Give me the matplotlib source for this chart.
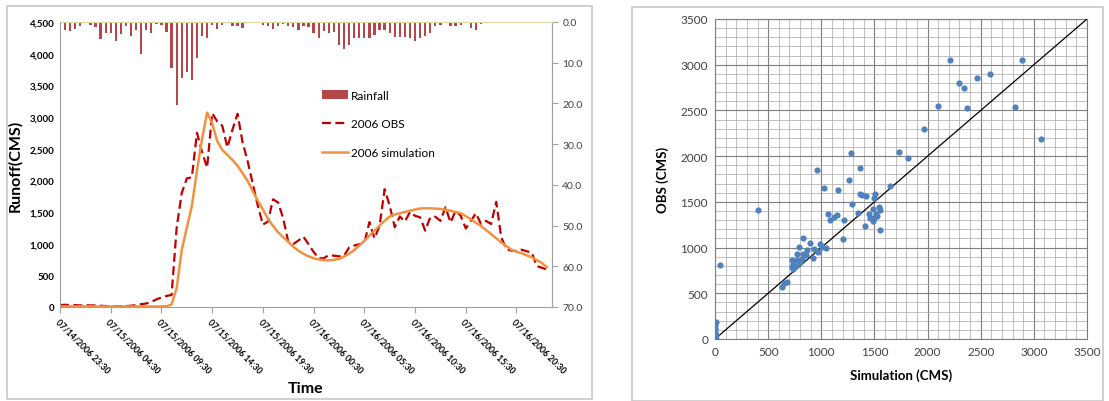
import numpy as np
import matplotlib
matplotlib.use("Agg")
from matplotlib import pyplot as plt
from matplotlib.patches import Rectangle
from matplotlib.ticker import FuncFormatter, MultipleLocator

plt.rcParams['font.family'] = ['Lato', 'DejaVu Sans']

# half-hourly series, 07/14/2006 23:30 onwards
rainfall = [0.5, 2.0, 2.1, 1.6, 0.9, 0.0, 0.7, 1.3, 4.1, 2.8,
            2.7, 4.6, 2.9, 1.1, 3.5, 2.0, 7.9, 1.9, 2.8, 0.4,
            0.7, 2.5, 11.4, 20.5, 13.8, 12.2, 14.2, 8.9, 3.4, 4.0,
            0.7, 1.8, 0.7, 0.3, 0.9, 1.0, 1.5, 0.0, 0.1, 0.3,
            0.8, 0.9, 1.6, 0.9, 0.4, 1.0, 1.3, 1.9, 1.0, 1.3,
            2.7, 3.9, 2.3, 2.8, 2.5, 5.6, 6.6, 5.6, 3.9, 3.9,
            3.9, 3.9, 3.1, 1.9, 1.9, 2.7, 3.7, 3.7, 3.7, 3.9,
            4.7, 4.0, 3.4, 2.7, 1.0, 0.8, 0.3, 1.0, 1.0, 0.7,
            0.3, 1.5, 2.0, 0.5, 0.3, 0.1, 0.0, 0.0, 0.0, 0.0,
            0.0, 0.0, 0.0, 0.0, 0.0, 0.0, 0.0]

obs_2006 = [30, 35, 30, 30, 25, 30, 25, 25, 20, 15,
            10, 10, 10, 15, 20, 30, 45, 55, 80, 120,
            150, 175, 190, 1250, 1800, 2030, 2050, 2750, 2450, 2200,
            3060, 2930, 2860, 2520, 2800, 3050, 2600, 2300, 1950, 1600,
            1300, 1350, 1700, 1650, 1400, 1030, 995, 1050, 1110, 990,
            870, 770, 770, 820, 810, 800, 810, 940, 970, 990,
            1010, 1340, 1085, 1280, 1860, 1600, 1260, 1430, 1350, 1500,
            1440, 1415, 1205, 1415, 1425, 1360, 1575, 1335, 1520, 1440,
            1240, 1360, 1480, 1310, 1360, 1310, 1660, 1100, 915, 890,
            885, 905, 880, 860, 645, 620, 590]

sim_2006 = [10, 10, 10, 10, 10, 10, 10, 8, 8, 8,
            8, 8, 8, 8, 8, 8, 8, 8, 8, 8,
            10, 12, 40, 300, 900, 1250, 1600, 2150, 2650, 3070,
            2900, 2620, 2480, 2400, 2320, 2230, 2110, 1990, 1830, 1680,
            1540, 1390, 1280, 1180, 1100, 1030, 950, 890, 840, 800,
            770, 750, 740, 737, 745, 760, 795, 840, 900, 970,
            1045, 1125, 1205, 1285, 1360, 1430, 1460, 1480, 1500, 1520,
            1540, 1555, 1558, 1558, 1553, 1547, 1535, 1520, 1500, 1480,
            1435, 1385, 1330, 1280, 1215, 1150, 1085, 1020, 960, 905,
            870, 850, 815, 785, 740, 695, 630]

time_labels = ["07/14/2006 23:30", "07/15/2006 04:30", "07/15/2006 09:30",
               "07/15/2006 14:30", "07/15/2006 19:30", "07/16/2006 00:30",
               "07/16/2006 05:30", "07/16/2006 10:30", "07/16/2006 15:30",
               "07/16/2006 20:30"]

# scatter: simulation vs observed
sim_pts = [2215, 2892, 2297, 2344, 2466, 2585, 2099, 2369, 2820, 1968,
           3064, 1275, 1729, 1820, 959, 1366, 1263, 1028, 1153, 1645,
           1363, 1416, 1504, 1494, 47, 407, 1065, 1150, 1118, 1081,
           1216, 1288, 1341, 1451, 1519, 1545, 1557, 1482, 1457, 1488,
           1410, 1551, 1526, 1200, 830, 893, 793, 987, 1003, 1040,
           934, 862, 971, 830, 768, 924, 855, 815, 721, 768,
           800, 730, 762, 737, 721, 627, 674, 652, 9, 0,
           0, 0, 0, 9, 0, 0, 5, 3, 1380, 1500]
obs_pts = [3052, 3052, 2797, 2742, 2855, 2899, 2545, 2523, 2534, 2297,
           2188, 2034, 2045, 1983, 1849, 1867, 1739, 1652, 1633, 1670,
           1586, 1568, 1586, 1537, 814, 1413, 1372, 1361, 1336, 1299,
           1299, 1478, 1380, 1372, 1372, 1445, 1409, 1427, 1318, 1288,
           1237, 1197, 1347, 1099, 1106, 1055, 1007, 1044, 1007, 996,
           989, 971, 953, 934, 934, 887, 916, 880, 869, 861,
           843, 825, 799, 770, 788, 569, 624, 617, 186, 150,
           95, 58, 22, 4, 124, 10, 40, 70, 1570, 1320]

W, H = 1109, 402
fig = plt.figure(figsize=(W / 100, H / 100), dpi=100)

# panel frames
for x0, y0, x1, y1 in [(7, 7, 592, 400), (632, 8, 1103, 402)]:
    fig.patches.append(Rectangle((x0 / W, 1 - y1 / H), (x1 - x0) / W, (y1 - y0) / H,
                                 transform=fig.transFigure, fill=False,
                                 edgecolor='#C8C8C8', linewidth=1.2))

# ---- left: hydrograph ----
x = np.arange(len(obs_2006))
ax = fig.add_axes([60 / W, 1 - 308 / H, 492 / W, 285 / H])
l_obs, = ax.plot(x, obs_2006, color='#C00000', linestyle=(0, (4, 2)), linewidth=1.6,
                 label='2006 OBS')
l_sim, = ax.plot(x, sim_2006, color='#F0923F', linewidth=1.8, label='2006 simulation')
ax.set_xlim(0, 97)
ax.set_ylim(0, 4500)
ax.yaxis.set_major_locator(MultipleLocator(500))
ax.yaxis.set_major_formatter(FuncFormatter(lambda v, p: f"{v:,.0f}"))
for t in ax.get_yticklabels():
    t.set_fontweight('bold')
ax.tick_params(axis='y', labelsize=7, length=0, pad=4)
ax.set_xticks(np.arange(0, 97, 10))
ax.set_xticklabels(time_labels, rotation=-45, ha='left', va='top',
                   rotation_mode='anchor', fontsize=6.2, fontweight='bold')
ax.tick_params(axis='x', length=4, color='#A0A0A0', pad=3)
for s in ['left', 'bottom', 'right']:
    ax.spines[s].set_color('#A0A0A0')
ax.spines['top'].set_visible(False)
ax.set_ylabel('Runoff(CMS)', fontsize=11.5, fontweight='bold', labelpad=5)
ax.set_xlabel('Time', fontsize=11.5, fontweight='bold', labelpad=2)
ax.xaxis.set_label_coords(0.5, -0.26)

ax2 = ax.twinx()
b_rain = ax2.bar(x, rainfall, width=0.45, color='#B5474A', label='Rainfall')
ax2.set_ylim(70, 0)
ax2.yaxis.set_major_locator(MultipleLocator(10))
ax2.yaxis.set_major_formatter(FuncFormatter(lambda v, p: f"{v:.1f}"))
ax2.tick_params(axis='y', labelsize=7.5, length=4, color='#A0A0A0', labelcolor='#404040')
ax2.spines['right'].set_color('#A0A0A0')
ax2.spines['top'].set_color('#D8D8A0')
for s in ['left', 'bottom']:
    ax2.spines[s].set_visible(False)

ax2.legend([b_rain, l_obs, l_sim], ['Rainfall', '2006 OBS', '2006 simulation'],
           loc='upper left', bbox_to_anchor=(0.51, 0.8), frameon=False,
           fontsize=8.5, labelspacing=1.5, handlelength=2.2, handletextpad=0.3)

# ---- right: scatter ----
bx = fig.add_axes([715 / W, 1 - 340 / H, 372 / W, 320 / H])
bx.set_xlim(0, 3500)
bx.set_ylim(0, 3500)
bx.xaxis.set_major_locator(MultipleLocator(500))
bx.yaxis.set_major_locator(MultipleLocator(500))
bx.xaxis.set_minor_locator(MultipleLocator(100))
bx.yaxis.set_minor_locator(MultipleLocator(100))
bx.grid(which='major', color='#7F7F7F', linewidth=0.8)
bx.grid(which='minor', color='#A6A6A6', linewidth=0.5)
bx.set_axisbelow(True)
bx.plot([0, 3500], [0, 3500], color='black', linewidth=0.9, zorder=3)
bx.scatter(sim_pts, obs_pts, s=20, color='#4F81BD', zorder=4, linewidths=0)
bx.tick_params(which='both', length=0, labelsize=8.5, labelcolor='#404040', pad=5)
for s in bx.spines.values():
    s.set_color('#7F7F7F')
bx.set_xlabel('Simulation (CMS)', fontsize=9.5, fontweight='bold', labelpad=8)
bx.set_ylabel('OBS (CMS)', fontsize=9.5, fontweight='bold', labelpad=8)

fig.savefig('out.png', dpi=100)
